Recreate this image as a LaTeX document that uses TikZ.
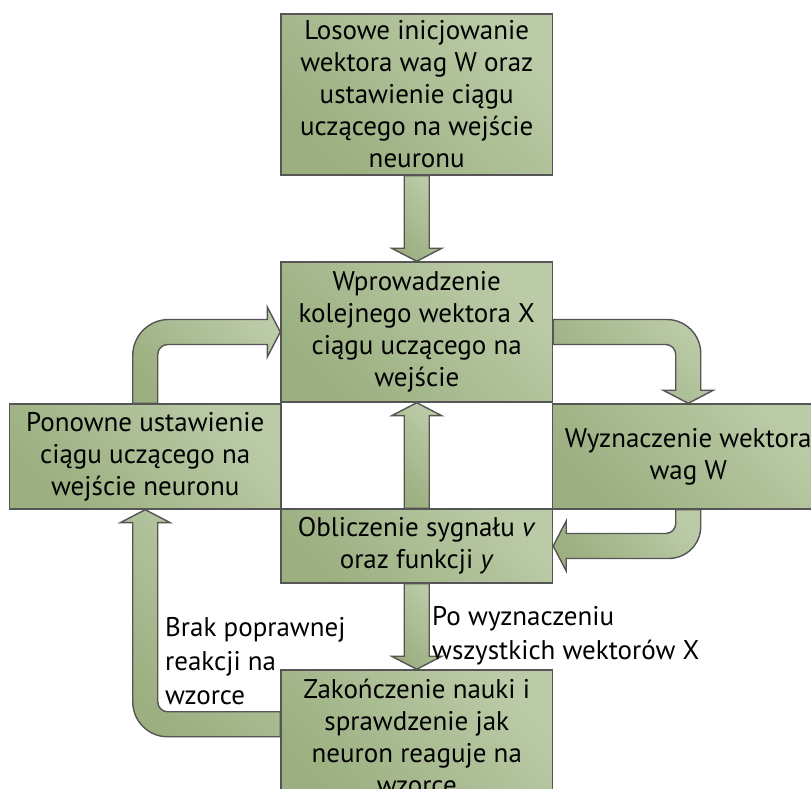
\documentclass[tikz,border=0pt]{standalone}
\usepackage{fontspec}
\setmainfont{PT Sans}
\usetikzlibrary{calc}

\definecolor{boxdark}{RGB}{155,175,128}
\definecolor{boxlight}{RGB}{187,203,167}
\definecolor{boxline}{RGB}{85,85,85}

% straight block arrow: #1 shaft start, #2 tip
\newcommand{\straightblock}[2]{%
  \coordinate (tipbase) at ($(#2)!13pt!(#1)$);
  \draw[blockarrow] ($(#1)!12.5pt!90:(#2)$) -- ($(tipbase)!12.5pt!90:(#2)$) -- ($(tipbase)!25pt!90:(#2)$) -- (#2)
    -- ($(tipbase)!25pt!-90:(#2)$) -- ($(tipbase)!12.5pt!-90:(#2)$) -- ($(#1)!12.5pt!-90:(#2)$) -- cycle;
}

\begin{document}
\begin{tikzpicture}[x=1pt, y=1pt,
  stepbox/.style={draw=boxline, line width=1.4pt, top color=boxlight, bottom color=boxdark, shading angle=-45,
    minimum width=271.5pt, inner sep=0pt, align=center, font=\fontsize{27}{32}\selectfont},
  blockarrow/.style={draw=boxline, line width=1.4pt, top color=boxlight, bottom color=boxdark, shading angle=-45},
  note/.style={inner sep=0pt, align=left, font=\fontsize{27}{34}\selectfont}]
\useasboundingbox (0,0) rectangle (811,789);
\clip (0,0) rectangle (811,789);

% boxes
\node[stepbox, minimum height=161pt] (init) at (416.75,694.5) {Losowe inicjowanie\\wektora wag W oraz\\ustawienie ciągu\\uczącego na wejście\\neuronu};
\node[stepbox, minimum height=140pt] (input) at (416.75,457) {Wprowadzenie\\kolejnego wektora X\\ciągu uczącego na\\wejście};
\node[stepbox, minimum height=105pt] (reset) at (145.25,332.5) {Ponowne ustawienie\\ciągu uczącego na\\wejście neuronu};
\node[stepbox, minimum height=105pt] (weights) at (688.25,332.5) {Wyznaczenie wektora\\wag W};
\node[stepbox, minimum height=74pt] (calc) at (416.75,243) {Obliczenie sygnału \textit{v}\\oraz funkcji \textit{y}};
\node[stepbox, minimum height=134pt] (finish) at (416.75,52) {Zakończenie nauki i\\sprawdzenie jak\\neuron reaguje na\\wzorce};

% straight arrows
\straightblock{init.south}{input.north}
\straightblock{calc.north}{input.south}
\straightblock{calc.south}{finish.north}

% bent arrows
\draw[blockarrow] let \p1=(input.east), \p2=(weights.north) in
  (\x1,\y1+12.5pt) -- (\x2+12.5pt-34pt,\y1+12.5pt) arc[start angle=90, end angle=0, radius=34pt]
  -- (\x2+12.5pt,\y2+13pt) -- (\x2+25pt,\y2+13pt) -- (\x2,\y2) -- (\x2-25pt,\y2+13pt) -- (\x2-12.5pt,\y2+13pt)
  -- (\x2-12.5pt,\y1-22.5pt) arc[start angle=0, end angle=90, radius=10pt] -- (\x1,\y1-12.5pt) -- cycle;
\draw[blockarrow] let \p1=(reset.north), \p2=(input.west) in
  (\x1-12.5pt,\y1) -- (\x1-12.5pt,\y2+12.5pt-36pt) arc[start angle=180, end angle=90, radius=36pt]
  -- (\x2-13pt,\y2+12.5pt) -- (\x2-13pt,\y2+25pt) -- (\x2,\y2) -- (\x2-13pt,\y2-25pt) -- (\x2-13pt,\y2-12.5pt)
  -- (\x1+22.5pt,\y2-12.5pt) arc[start angle=90, end angle=180, radius=10pt] -- (\x1+12.5pt,\y1) -- cycle;
\draw[blockarrow] let \p1=(weights.south), \p2=(calc.east) in
  (\x1+12.5pt,\y1) -- (\x1+12.5pt,\y2-12.5pt+32pt) arc[start angle=0, end angle=-90, radius=32pt]
  -- (\x2+13pt,\y2-12.5pt) -- (\x2+13pt,\y2-25pt) -- (\x2,\y2) -- (\x2+13pt,\y2+25pt) -- (\x2+13pt,\y2+12.5pt)
  -- (\x1-22.5pt,\y2+12.5pt) arc[start angle=-90, end angle=0, radius=10pt] -- (\x1-12.5pt,\y1) -- cycle;
\draw[blockarrow] let \p1=($(finish.north west)+(0,-55pt)$), \p2=(reset.south) in
  (\x1,\y1-12.5pt) -- (\x2+22.5pt,\y1-12.5pt) arc[start angle=270, end angle=180, radius=35pt]
  -- (\x2-12.5pt,\y2-13pt) -- (\x2-25pt,\y2-13pt) -- (\x2,\y2) -- (\x2+25pt,\y2-13pt) -- (\x2+12.5pt,\y2-13pt)
  -- (\x2+12.5pt,\y1+22.5pt) arc[start angle=180, end angle=270, radius=10pt] -- (\x1,\y1+12.5pt) -- cycle;

% labels
\node[note, anchor=north west] (nomatch) at (165,172) {Brak poprawnej\\reakcji na\\wzorce};
\node[note, anchor=north west] (alldone) at (432,183) {Po wyznaczeniu\\wszystkich wektorów X};
\end{tikzpicture}
\end{document}
